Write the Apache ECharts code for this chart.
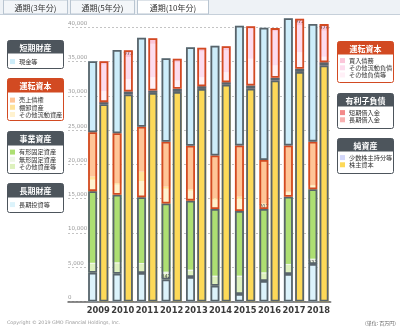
<!DOCTYPE html>
<html><head><meta charset="utf-8">
<script src="https://cdn.jsdelivr.net/npm/echarts@6/dist/echarts.min.js"></script>
<style>html,body{margin:0;padding:0;background:#fff}#c{width:400px;height:332px}</style>
</head><body><div id="c"></div>
<script>
// ---- data (百万円) ----
const years = ['2009','2010','2011','2012','2013','2014','2015','2016','2017','2018'];
const yTicks = [0, 5000, 10000, 15000, 20000, 25000, 30000, 35000, 40000];
// assets (left bar), bottom -> top
const longTermInv        = [4200, 4040, 4160, 3210, 3570, 2290, 1090, 2990, 4010, 5470];
const otherAssets        = [1300, 1530, 1310,  842,  920, 1330, 2530, 1120, 1320,  332];
const intangible         = [ 150,  150,  150,  300,  150,  150,  150,  150,  150,  450];
const tangible           = [10450, 9850, 9580, 9950, 10070, 9730, 9430, 9240, 9810, 10120];
const otherCurrentAssets = [1660, 1480, 2380, 2150, 1460, 1360, 1790,  707,  630,  530];
const inventory          = [ 480,  200, 1360,  300,  200,  200,  300,  100,  100,  100];
const receivables        = [6460, 7290, 6560, 6560, 6360, 6240, 7470, 6330, 6740, 6320];
const cash               = [10360, 12150, 12990, 12170, 14360, 16020, 17480, 19310, 18560, 17170];
// liabilities & equity (right bar), bottom -> top
const shareholders       = [28680, 30040, 30330, 30430, 30910, 31540, 30910, 32090, 33350, 34270];
const minority           = [ 100,  150,  100,  150,  100,  100,  150,  150,  150,  150];
const longLoans          = [ 100,  150,  100,  150,  150,  100,  150,  150,  150,  150];
const shortLoans         = [ 200,  300,  250,  300,  250,  250,  300,  250,  300,  330];
const otherLiab          = [1600, 1820, 1940, 1210, 1310, 1460, 3900, 1800, 2420,  800];
const otherCurrentLiab   = [3880, 3210, 4870, 2630, 3750, 3170, 4350, 4960, 3900, 3790];
const payables           = [ 500,  973,  820,  540,  540,  630,  400,  480,  972,  974];
// which segments carry a value label (series name -> year indexes)
const labeledPoints = { '買入債務': [1, 8, 9], 'その他資産等': [3, 9], 'その他流動資産': [7] };

// ---- styles ----
const JP = '"Noto Sans CJK JP", sans-serif';
const GRAY = '#58646b', RED = '#d24a22', HDR = '#4d555c';
const BW = 9, GAP = '25%';

function seg(name, data, stack, color) {
  const lab = labeledPoints[name] || [];
  return {
    type: 'bar', name, stack, xAxisIndex: 0, yAxisIndex: 0,
    barWidth: BW, barGap: GAP, clip: false, silent: true,
    itemStyle: { color },
    data: data.map((v, i) => lab.indexOf(i) >= 0
      ? { value: v, label: { show: true, position: 'inside', fontSize: 5, color: '#444', fontFamily: 'DejaVu Sans', formatter: p => String(p.value) } }
      : v)
  };
}
function sum(...arrs) { return arrs[0].map((_, i) => arrs.reduce((s, a) => s + a[i], 0)); }
function outline(name, data, stack, col) {
  return {
    type: 'bar', name, stack, xAxisIndex: 1, yAxisIndex: 0,
    barWidth: BW, barGap: GAP, clip: false, silent: true, z: 3,
    itemStyle: { color: 'rgba(0,0,0,0)', borderColor: col, borderWidth: 1.8 },
    data
  };
}

const series = [
  seg('長期投資等', longTermInv, 'L', '#dcf3fb'),
  seg('その他資産等', otherAssets, 'L', '#ddf1bd'),
  seg('無形固定資産', intangible, 'L', '#eef6e6'),
  seg('有形固定資産', tangible, 'L', '#addf72'),
  seg('その他流動資産', otherCurrentAssets, 'L', '#fff2cf'),
  seg('棚卸資産', inventory, 'L', '#ffe39a'),
  seg('売上債権', receivables, 'L', '#ffc597'),
  seg('現金等', cash, 'L', '#cdedfa'),
  seg('株主資本', shareholders, 'R', '#fdd958'),
  seg('少数株主持分等', minority, 'R', '#d4d8fb'),
  seg('長期借入金', longLoans, 'R', '#f8b0b0'),
  seg('短期借入金', shortLoans, 'R', '#f38a8a'),
  seg('その他負債等', otherLiab, 'R', '#fff0f7'),
  seg('その他流動負債', otherCurrentLiab, 'R', '#fddcee'),
  seg('買入債務', payables, 'R', '#fbc6da'),
  outline('_g1', longTermInv, 'OL', GRAY),
  outline('_g2', sum(otherAssets, intangible, tangible), 'OL', GRAY),
  outline('_g3', sum(otherCurrentAssets, inventory, receivables), 'OL', RED),
  outline('_g4', cash, 'OL', GRAY),
  outline('_g5', sum(shareholders, minority), 'OR', GRAY),
  outline('_g6', sum(longLoans, shortLoans), 'OR', GRAY),
  outline('_g7', sum(otherLiab, otherCurrentLiab, payables), 'OR', RED)
];

function legend(names, left, top) {
  return {
    data: names, orient: 'vertical', left, top, icon: 'rect',
    itemWidth: 5, itemHeight: 5, itemGap: 1, padding: 0, selectedMode: false,
    textStyle: { fontSize: 6.2, color: '#333', fontFamily: JP, lineHeight: 6, padding: [0, 0, 0, -1] }
  };
}

function box(x, y, w, hh, bh, title, col) {
  return [
    { type: 'rect', shape: { x, y, width: w, height: hh + bh, r: 2 }, style: { fill: '#fff', stroke: col, lineWidth: 1 } },
    { type: 'rect', shape: { x, y, width: w, height: hh, r: [2, 2, 0, 0] }, style: { fill: col } },
    { type: 'text', x: x + w / 2, y: y + hh / 2 + 0.5, style: { text: title, fill: '#fff', fontSize: 8, fontWeight: 'bold', fontFamily: JP, align: 'center', verticalAlign: 'middle' } }
  ];
}

function tab(x, w, text, active) {
  return [
    { type: 'rect', shape: { x, y: 0, width: w, height: 14 }, style: { fill: active ? '#fff' : '#f3f6f9', stroke: '#b9c5d1', lineWidth: 1 } },
    { type: 'text', x: x + w / 2, y: 7.5, style: { text, fill: '#333', fontSize: 8, fontFamily: JP, align: 'center', verticalAlign: 'middle' } }
  ];
}

const graphic = [].concat(
  [{ type: 'rect', shape: { x: 0, y: 0, width: 400, height: 14 }, style: { fill: '#eef2f6' } },
   { type: 'line', shape: { x1: 0, y1: 14.5, x2: 400, y2: 14.5 }, style: { stroke: '#c6d0da', lineWidth: 1 } }],
  tab(3.5, 64, '通期(3年分)', false),
  tab(70.5, 64, '通期(5年分)', false),
  tab(137.5, 71, '通期(10年分)', true),
  box(7.5, 40.5, 56, 13, 15, '短期財産', HDR),
  box(7.5, 78.5, 56, 14, 28, '運転資本', RED),
  box(7.5, 131.5, 56, 14, 28, '事業資産', HDR),
  box(7.5, 183.5, 56, 14, 15, '長期財産', HDR),
  box(337.5, 41.5, 56, 13, 28, '運転資本', RED),
  box(337.5, 93.5, 56, 13, 22, '有利子負債', HDR),
  box(337.5, 138.5, 56, 13, 22, '純資産', HDR),
  [{ type: 'text', x: 7, y: 323, style: { text: 'Copyright © 2019 GMO Financial Holdings, Inc.', fill: '#999', fontSize: 4.8, fontFamily: 'DejaVu Sans', verticalAlign: 'middle' } },
   { type: 'text', x: 396, y: 323, style: { text: '(単位: 百万円)', fill: '#666', fontSize: 5, fontFamily: JP, align: 'right', verticalAlign: 'middle' } }]
);

const chart = echarts.init(document.getElementById('c'));
chart.setOption({
  animation: false,
  backgroundColor: '#fff',
  grid: [
    { left: 86, right: 69.3, top: 27.3, bottom: 30.5 },
    { left: 68, right: 69.3, top: 27.3, bottom: 30.5 }
  ],
  xAxis: [
    { type: 'category', data: years, gridIndex: 0, axisLine: { show: false }, axisTick: { show: false },
      axisLabel: { interval: 0, fontSize: 8.3, fontWeight: 'bold', color: '#3a3a3a', margin: 5, fontFamily: 'DejaVu Sans' } },
    { type: 'category', data: years, gridIndex: 0, show: false },
    { type: 'value', gridIndex: 1, min: 0, max: 1, axisLabel: { show: false }, axisTick: { show: false }, splitLine: { show: false },
      axisLine: { show: true, lineStyle: { color: '#666', width: 1.5 } } }
  ],
  yAxis: [
    { type: 'value', gridIndex: 0, min: 0, max: 40000, show: false },
    { type: 'value', gridIndex: 1, min: yTicks[0], max: yTicks[yTicks.length - 1], interval: yTicks[1] - yTicks[0],
      axisLine: { show: false }, axisTick: { show: false },
      splitLine: { lineStyle: { type: [2, 2], color: '#c4c4c4' } },
      axisLabel: { inside: true, margin: 0, align: 'left', verticalAlign: 'bottom', padding: [0, 0, 1, 0],
        fontSize: 5.5, color: '#999', fontFamily: 'DejaVu Sans', formatter: v => v.toLocaleString('en-US') } }
  ],
  legend: [
    legend(['現金等'], 10, 58.5),
    legend(['売上債権', '棚卸資産', 'その他流動資産'], 10, 97),
    legend(['有形固定資産', '無形固定資産', 'その他資産等'], 10, 149),
    legend(['長期投資等'], 10, 201.5),
    legend(['買入債務', 'その他流動負債', 'その他負債等'], 340, 57.5),
    legend(['短期借入金', '長期借入金'], 340, 109.5),
    legend(['少数株主持分等', '株主資本'], 340, 154.5)
  ],
  graphic,
  series
});
</script></body></html>
